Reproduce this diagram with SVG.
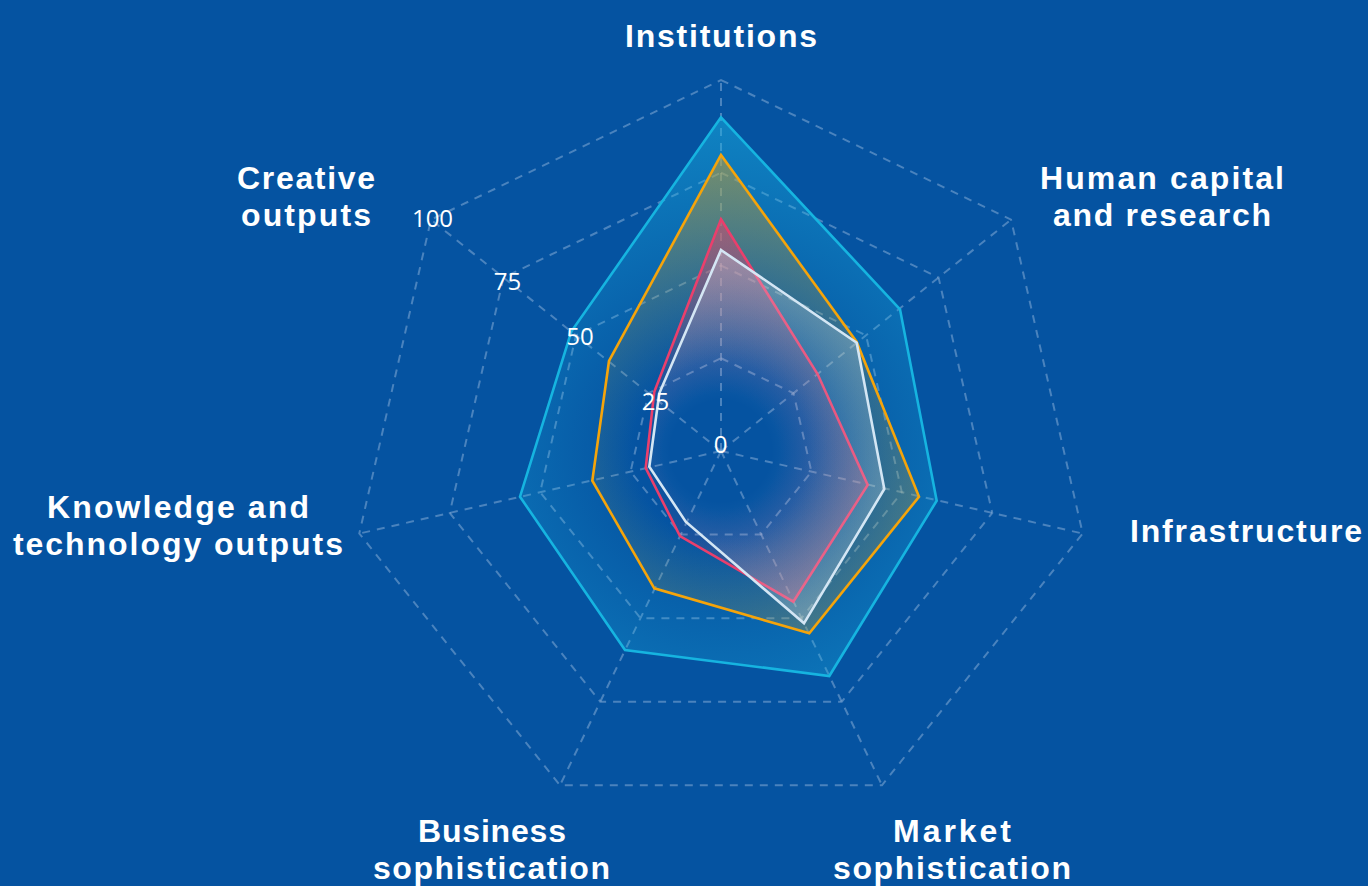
<svg xmlns="http://www.w3.org/2000/svg" width="1368" height="886" viewBox="0 0 1368 886">
<style>
.grid{fill:none;stroke:#8fb3dc;stroke-opacity:0.5;stroke-width:2;stroke-dasharray:8 7}
.lbl{font-family:"Liberation Sans",Arial,sans-serif;font-weight:700;font-size:32px;fill:#ffffff;text-anchor:middle}
.tick{font-family:"Open Sans","Liberation Sans",sans-serif;font-weight:400;font-size:24px;fill:#ffffff;text-anchor:middle}
.series{stroke-width:2.6;stroke-linejoin:miter}
</style>
<defs>
<radialGradient id="gCyan" gradientUnits="userSpaceOnUse" cx="721" cy="451" r="334">
<stop offset="0.25" stop-color="#1ab4e4" stop-opacity="0"/>
<stop offset="1" stop-color="#1ab4e4" stop-opacity="0.5"/>
</radialGradient>
<radialGradient id="gOrange" gradientUnits="userSpaceOnUse" cx="721" cy="451" r="296">
<stop offset="0.3" stop-color="#f5a40a" stop-opacity="0"/>
<stop offset="1" stop-color="#f5a40a" stop-opacity="0.45"/>
</radialGradient>
<radialGradient id="gPink" gradientUnits="userSpaceOnUse" cx="721" cy="451" r="232">
<stop offset="0.25" stop-color="#e8406e" stop-opacity="0"/>
<stop offset="1" stop-color="#e8406e" stop-opacity="0.5"/>
</radialGradient>
<radialGradient id="gWhite" gradientUnits="userSpaceOnUse" cx="721" cy="451" r="201">
<stop offset="0.25" stop-color="#e6f0fa" stop-opacity="0"/>
<stop offset="1" stop-color="#e6f0fa" stop-opacity="0.3"/>
</radialGradient>
</defs>
<rect x="0" y="0" width="1368" height="886" fill="#0553a1"/>

<g id="grid">
<polygon class="grid" points="721,80 1011.06,219.69 1082.7,533.55 881.97,785.26 560.03,785.26 359.3,533.55 430.94,219.69"/>
<polygon class="grid" points="721,172.75 938.55,277.51 992.27,512.92 841.73,701.69 600.27,701.69 449.73,512.92 503.45,277.51"/>
<polygon class="grid" points="721,265.5 866.03,335.34 901.85,492.28 801.48,618.13 640.52,618.13 540.15,492.28 575.97,335.34"/>
<polygon class="grid" points="721,358.25 793.51,393.17 811.43,471.64 761.24,534.57 680.76,534.57 630.57,471.64 648.49,393.17"/>
<line class="grid" x1="721" y1="451" x2="721" y2="80"/>
<line class="grid" x1="721" y1="451" x2="1011.06" y2="219.69"/>
<line class="grid" x1="721" y1="451" x2="1082.7" y2="533.55"/>
<line class="grid" x1="721" y1="451" x2="881.97" y2="785.26"/>
<line class="grid" x1="721" y1="451" x2="560.03" y2="785.26"/>
<line class="grid" x1="721" y1="451" x2="359.3" y2="533.55"/>
<line class="grid" x1="721" y1="451" x2="430.94" y2="219.69"/>
</g>

<g id="series-cyan">
<polygon class="series" fill="url(#gCyan)" stroke="#16b4e0" points="721,117.3 900,309.3 936.7,500.7 829.3,676 625,650 520,496.7 571.3,331.6"/>
</g>
<g id="series-orange">
<polygon class="series" fill="url(#gOrange)" stroke="#f5a40a" points="721,155 856.7,342 919,496.7 809.3,633.3 654.3,588.3 592.3,480.7 609,361"/>
</g>
<g id="series-pink">
<polygon class="series" fill="url(#gPink)" stroke="#ea3f6c" points="721,219.3 817.7,374.3 867.7,485 793.3,601.7 680,536 645.7,468 654.3,391.7"/>
</g>
<g id="series-white">
<polygon class="series" fill="url(#gWhite)" stroke="#d4e6f4" points="721,250 856.7,342.7 884.3,489 804,623.3 685.7,521.7 649.3,466.7 659.3,393.3"/>
</g>

<g id="ticks">
<text class="tick" x="720.5" y="453">0</text>
<text class="tick" x="655.5" y="410">25</text>
<text class="tick" x="580" y="345">50</text>
<text class="tick" x="507.5" y="290">75</text>
<text class="tick" x="432.5" y="227">100</text>
</g>

<g id="label-institutions">
<text class="lbl" x="721" y="47" textLength="192">Institutions</text>
</g>
<g id="label-human-capital">
<text class="lbl" x="1162" y="189" textLength="244">Human capital</text>
<text class="lbl" x="1162" y="226" textLength="218">and research</text>
</g>
<g id="label-infrastructure">
<text class="lbl" x="1246" y="542" textLength="232">Infrastructure</text>
</g>
<g id="label-market">
<text class="lbl" x="952" y="842" textLength="118">Market</text>
<text class="lbl" x="952" y="879" textLength="238">sophistication</text>
</g>
<g id="label-business">
<text class="lbl" x="492" y="842" textLength="148">Business</text>
<text class="lbl" x="491.5" y="879" textLength="237">sophistication</text>
</g>
<g id="label-knowledge">
<text class="lbl" x="178" y="518" textLength="262">Knowledge and</text>
<text class="lbl" x="178" y="555" textLength="330">technology outputs</text>
</g>
<g id="label-creative">
<text class="lbl" x="306" y="189" textLength="138">Creative</text>
<text class="lbl" x="306" y="226" textLength="130">outputs</text>
</g>
</svg>
